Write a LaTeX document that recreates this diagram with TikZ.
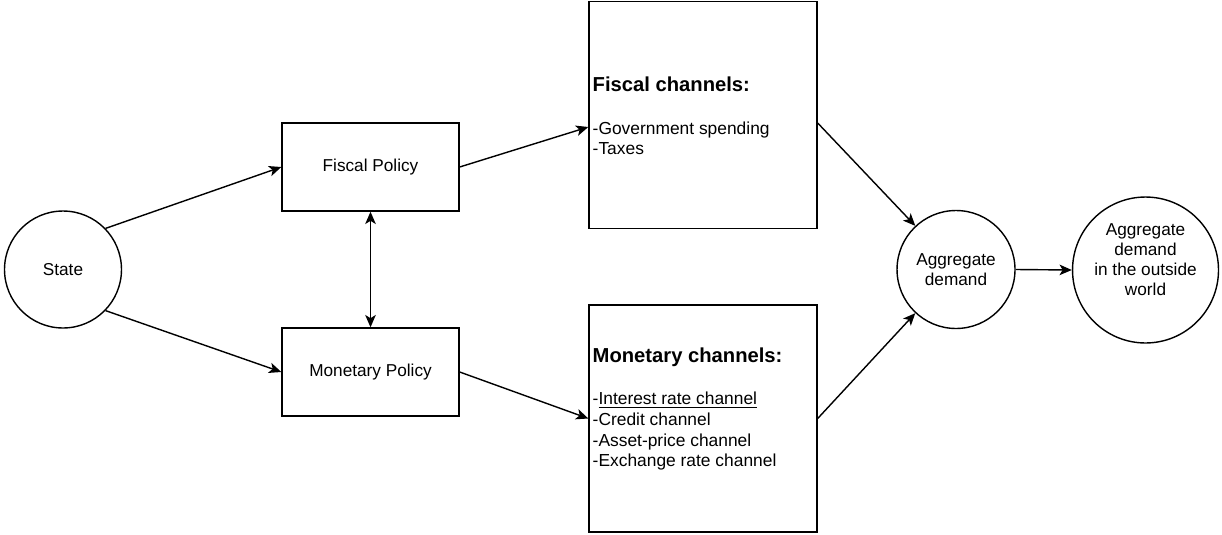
\documentclass[tikz,border=0pt]{standalone}
\usepackage{fontspec}
\setmainfont{Liberation Sans}
\usetikzlibrary{arrows.meta,calc}

\begin{document}
\begin{tikzpicture}[x=0.02cm,y=-0.02cm,
		line width=0.8pt,
		tip/.style={Stealth[length=7pt,width=6pt,inset=1.8pt]},
		arr/.style={-{Stealth[length=7pt,width=6pt,inset=1.8pt]}},
		circ/.style={draw,circle,inner sep=0pt,font=\fontsize{9.8}{11.4}\selectfont,align=center},
		polbox/.style={draw,minimum width=3.54cm,minimum height=1.76cm,font=\fontsize{9.8}{11.4}\selectfont},
		chanbox/.style={draw,minimum width=4.56cm,minimum height=4.54cm},
		chantext/.style={anchor=west,inner sep=0pt,align=left,font=\fontsize{9.9}{11.7}\selectfont}]
		 	\useasboundingbox (0,0) rectangle (1222,534);

		 	% left side
		 	\node[circ,minimum size=2.34cm] (state) at (63,269.5){State};
		 	\node[polbox] (fpol) at (370.5,167){Fiscal Policy};
		 	\node[polbox] (mpol) at (370.5,372){Monetary Policy};

		 	% channels
		 	\node[chanbox] (fch) at (703,115){};
		 	\node[chanbox] (mch) at (703,418.5){};
		 	\node[chantext] (fchtxt) at (592,116){{\fontsize{11.5}{13}\selectfont\bfseries Fiscal channels:}\\[12.5pt]
		 		-Government spending\\-Taxes};
		 	\node[chantext] (mchtxt) at (592,409){{\fontsize{11.5}{13}\selectfont\bfseries Monetary channels:}\\[12.5pt]
		 		-\underline{Interest rate channel}\\-Credit channel\\-Asset-price channel\\-Exchange rate channel};

		 	% right side
		 	\node[circ,minimum size=2.36cm] (ad) at (956,269.5){Aggregate\\demand};
		 	\node[circ,minimum size=2.92cm] (adw) at (1145.5,270){Aggregate\\demand\\in the outside\\world\\\mbox{}};

		 	\draw[arr] (state.44) to (fpol.west);
		 	\draw[arr] (state.-44) to (mpol.west);
		 	\draw[{Stealth[length=7pt,width=6pt,inset=1.8pt]}-{Stealth[length=7pt,width=6pt,inset=1.8pt]}] (fpol.south) to (mpol.north);
		 	\draw[arr] (fpol.east) to ($(fch.west)+(0,12)$);
		 	\draw[arr] (mpol.east) to (mch.west);
		 	\draw[arr] ($(fch.east)+(0,8)$) to (ad.133);
		 	\draw[arr] (mch.east) to (ad.227);
		 	\draw[arr] (ad.east) to (adw.west);
		\end{tikzpicture}
\end{document}
